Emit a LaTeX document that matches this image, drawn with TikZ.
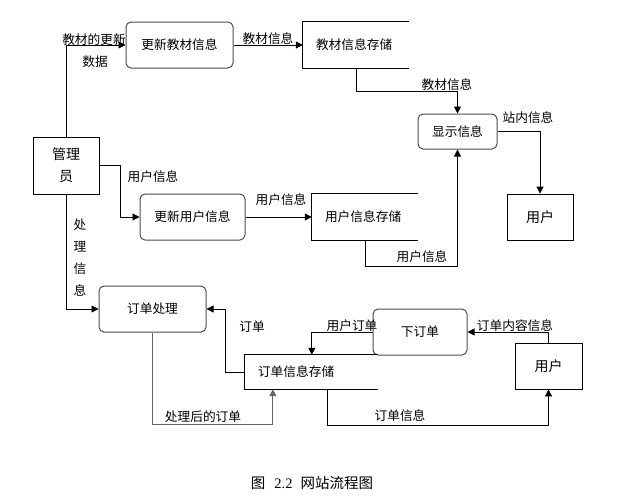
\documentclass[tikz,border=0pt]{standalone}
\usepackage{fontspec}
\setmainfont{Liberation Serif}
\newfontfamily\cjk{Noto Sans CJK SC}
\usetikzlibrary{arrows.meta,calc}

\begin{document}
\begin{tikzpicture}[
    x=1pt, y=-1pt,
    >={Triangle[length=7pt,width=7pt]},
    every node/.style={font=\cjk\fontsize{12.7}{15}\selectfont},
    proc/.style={
        rectangle,
        rounded corners=5pt,
        draw=black!70,
        line width=1pt,
        inner sep=0pt,
        align=center
    },
    ext/.style={
        rectangle,
        draw,
        line width=0.8pt,
        inner sep=0pt,
        align=center,
        font=\cjk\fontsize{14}{22}\selectfont
    },
    store/.style={
        rectangle,
        inner xsep=13pt,
        inner ysep=0pt,
        align=left,
        text width=#1
    },
    flow/.style={->, line width=0.8pt},
    lbl/.style={inner sep=1pt}
]
\useasboundingbox (0,0) rectangle (628,496);

% Processes
\node[proc, minimum width=107pt, minimum height=46pt] (gxjc) at (179.5,45) {更新教材信息};
\node[proc, minimum width=79pt, minimum height=35pt]  (xsxx) at (457.5,131.5) {显示信息};
\node[proc, minimum width=105pt, minimum height=46pt] (gxyh) at (192.5,217) {更新用户信息};
\node[proc, minimum width=107pt, minimum height=46pt] (ddcl) at (152.5,309) {订单处理};
\node[proc, minimum width=94pt, minimum height=46pt]  (xdd)  at (420,332) {下订单};

% External entities
\node[ext, minimum width=66pt, minimum height=57pt] (admin) at (66,165.5) {管理\\员};
\node[ext, minimum width=66pt, minimum height=46pt] (yh1)   at (540,217) {用户};
\node[ext, minimum width=67pt, minimum height=46pt] (yh2)   at (548.5,366) {用户};

% Data stores (open on the right)
\node[store=80pt, minimum height=46pt]  (jcstore) at (356,45)    {教材信息存储};
\node[store=80pt, minimum height=46pt]  (yhstore) at (365,217)   {用户信息存储};
\node[store=107pt, minimum height=34pt] (ddstore) at (311.5,372) {订单信息存储};
\foreach \s in {jcstore,yhstore,ddstore}
    \draw[line width=0.8pt] (\s.north east) -- (\s.north west) -- (\s.south west) -- (\s.south east);

% Flows: textbooks
\draw[flow] (admin.north) |- (gxjc.west);
\node[lbl] (l1) at (94,40) {教材的更新};
\node[lbl] (l2) at (95,62) {数据};
\draw[flow] (gxjc.east) -- (jcstore.west);
\node[lbl] (l3) at (268,39) {教材信息};
\draw[flow] (jcstore.south) -- ++(0,23) -| (xsxx.north);
\node[lbl] (l4) at (447,85) {教材信息};
\draw[flow] (xsxx.east) -| (yh1.north);
\node[lbl] (l5) at (528,118) {站内信息};

% Flows: users
\draw[flow] (admin.east) -- ++(21,0) |- (gxyh.west);
\node[lbl] (l6) at (153,177) {用户信息};
\draw[flow] (gxyh.east) -- (yhstore.west);
\node[lbl] (l7) at (281,200) {用户信息};
\draw[flow] (yhstore.south) -- ++(0,26) -| (xsxx.south);
\node[lbl] (l8) at (422,257) {用户信息};

% Flows: orders
\draw[flow] (admin.south) |- (ddcl.west);
\node[lbl, align=center, font=\cjk\fontsize{12.7}{22}\selectfont] (l9) at (80,258) {处\\理\\信\\息};
\draw[flow] (ddstore.west) -- ++(-19,0) |- (ddcl.east);
\node[lbl] (l10) at (252,327) {订单};
\draw[flow, draw=black!60] (ddcl.south) -- ++(0,92) -| ([xshift=28pt]ddstore.south west);
\node[lbl] (l11) at (203,417) {处理后的订单};
\draw[flow] (xdd.west) -| ([xshift=67pt]ddstore.north west);
\node[lbl] (l12) at (352,326) {用户订单};
\draw[flow] (yh2.north) |- (xdd.east);
\node[lbl] (l13) at (515,326) {订单内容信息};
\draw[flow] ([xshift=83pt]ddstore.south west) -- ++(0,36) -| (yh2.south);
\node[lbl] (l14) at (400,416) {订单信息};

% Caption
\node[font=\cjk\fontsize{14.5}{16}\selectfont] (caption) at (312,483) {图\hspace{9pt}{\rmfamily 2.2}\hspace{8pt}网站流程图};

\end{tikzpicture}
\end{document}
